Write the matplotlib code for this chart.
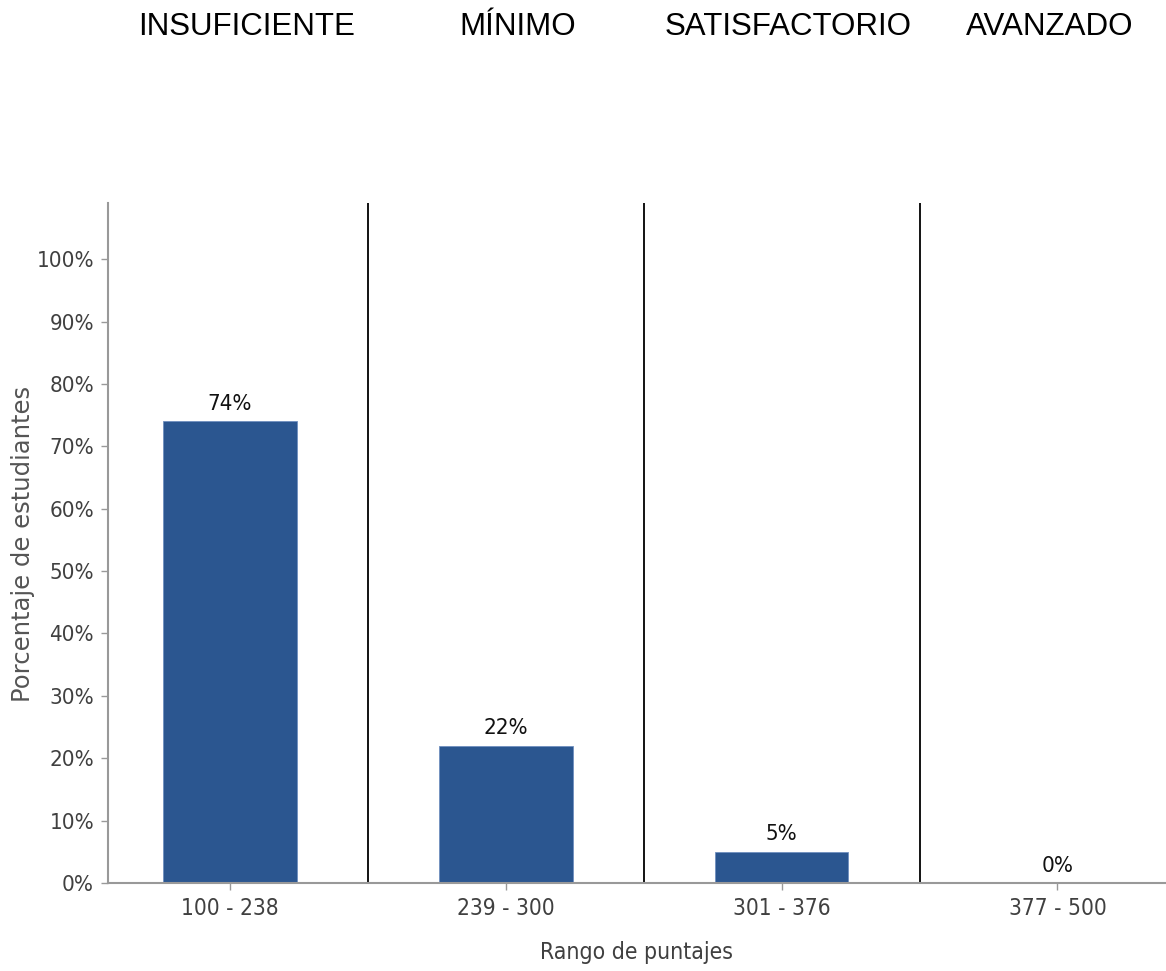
import matplotlib
matplotlib.use("Agg")
import matplotlib.pyplot as plt

rangos = ["100 - 238", "239 - 300", "301 - 376", "377 - 500"]
niveles = ["INSUFICIENTE", "MÍNIMO", "SATISFACTORIO", "AVANZADO"]
porcentajes = [74, 22, 5, 0]
yticks = [0, 10, 20, 30, 40, 50, 60, 70, 80, 90, 100]

azul = "#2b5690"
gris = "#404040"
fuente = dict(family="DejaVu Sans", stretch="condensed")

fig = plt.figure(figsize=(11.66, 9.71), dpi=100)
ax = fig.add_axes([108 / 1166, 1 - 883 / 971, (1165 - 108) / 1166, (883 - 203) / 971])

x = list(range(len(rangos)))
ax.bar(x, porcentajes, width=0.485, color=azul, edgecolor="#6f8fbf", linewidth=0.6, zorder=2)

for xi, p in zip(x, porcentajes):
    ax.text(xi, p + 1.2, f"{p}%", ha="center", va="bottom", fontsize=16,
            color="#111111", **fuente)

# separadores de niveles
for xi in x[:-1]:
    ax.axvline(xi + 0.5, color="black", linewidth=1.3, zorder=1)

ax.set_xlim(-0.442, 3.39)
ax.set_ylim(0, 109)
ax.set_xticks(x)
ax.set_xticklabels(rangos, fontsize=16.3, color=gris, **fuente)
ax.set_yticks(yticks)
ax.set_yticklabels([f"{v}%" for v in yticks], fontsize=16, color=gris, **fuente)
ax.tick_params(axis="both", colors="#999999", length=5, width=1, labelcolor=gris, pad=5)

for lado in ["top", "right"]:
    ax.spines[lado].set_visible(False)
for lado in ["left", "bottom"]:
    ax.spines[lado].set_color("#999999")
    ax.spines[lado].set_linewidth(1.5)

ax.set_xlabel("Rango de puntajes", fontsize=16.5, color=gris, labelpad=15, **fuente)
fig.text(23 / 1166, 1 - 544 / 971, "Porcentaje de estudiantes", rotation=90,
         ha="center", va="center", fontsize=17.5, family="DejaVu Sans", color="#555555")

centros_nivel = [247, 518, 788, 1050]
for nombre, cx in zip(niveles, centros_nivel):
    fig.text(cx / 1166, 1 - 27 / 971, nombre, ha="center", va="center",
             fontsize=22.5, family="Liberation Sans", color="black")

fig.savefig("out.png", dpi=100)
